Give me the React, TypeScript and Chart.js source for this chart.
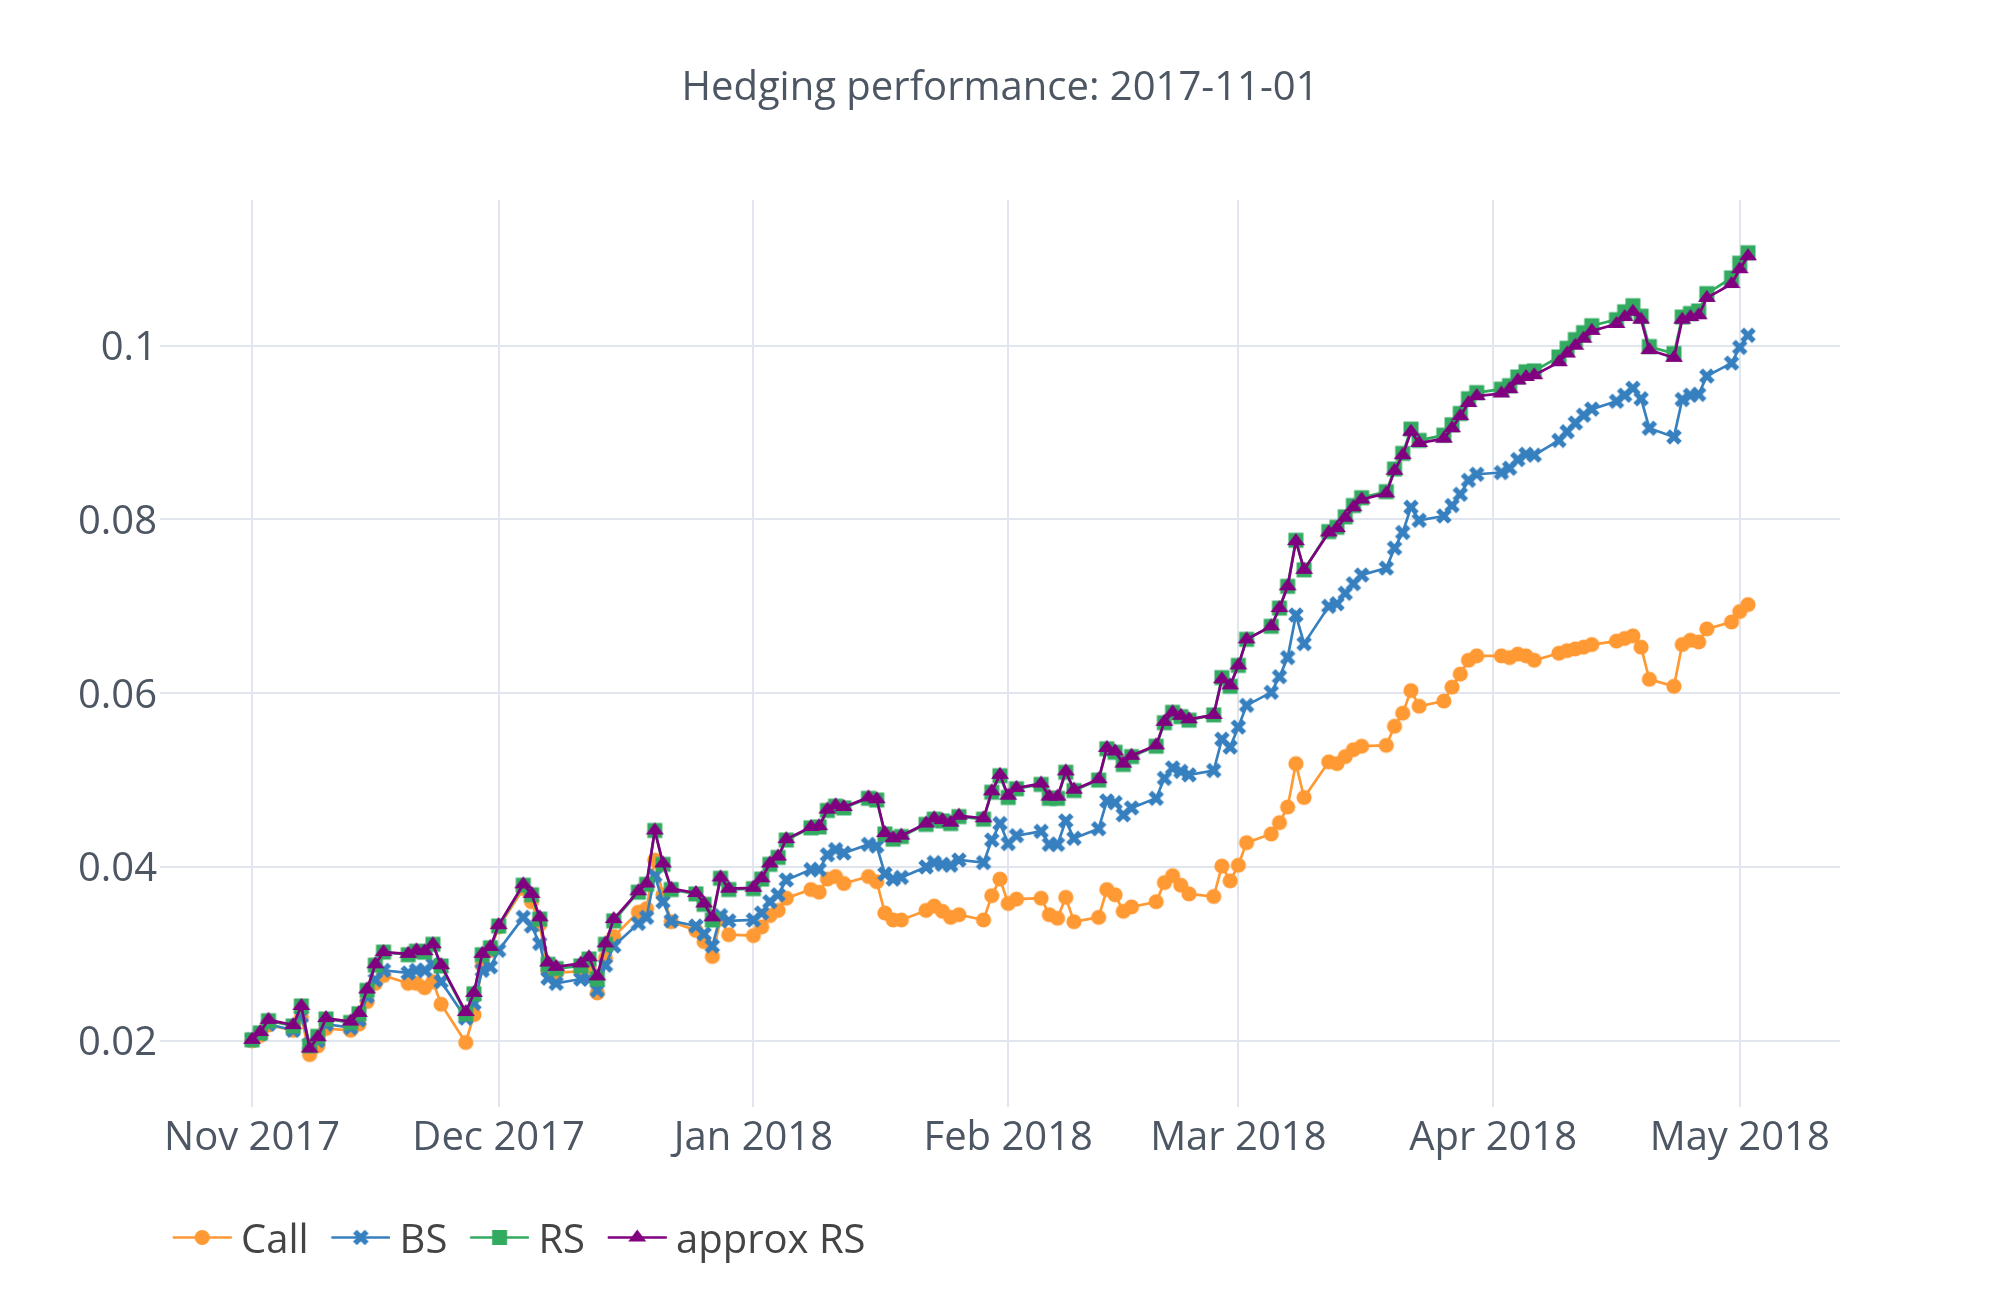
import { useEffect, useRef } from "react"
import Chart from "chart.js/auto"

// trading days shown on the x axis
const dates = [
  "2017-11-01", "2017-11-02", "2017-11-03", "2017-11-06", "2017-11-07", "2017-11-08", "2017-11-09", "2017-11-10",
  "2017-11-13", "2017-11-14", "2017-11-15", "2017-11-16", "2017-11-17", "2017-11-20", "2017-11-21", "2017-11-22",
  "2017-11-23", "2017-11-24", "2017-11-27", "2017-11-28", "2017-11-29", "2017-11-30",
  "2017-12-01", "2017-12-04", "2017-12-05", "2017-12-06", "2017-12-07", "2017-12-08", "2017-12-11", "2017-12-12",
  "2017-12-13", "2017-12-14", "2017-12-15", "2017-12-18", "2017-12-19", "2017-12-20", "2017-12-21", "2017-12-22",
  "2017-12-25", "2017-12-26", "2017-12-27", "2017-12-28", "2017-12-29",
  "2018-01-01", "2018-01-02", "2018-01-03", "2018-01-04", "2018-01-05", "2018-01-08", "2018-01-09", "2018-01-10",
  "2018-01-11", "2018-01-12", "2018-01-15", "2018-01-16", "2018-01-17", "2018-01-18", "2018-01-19", "2018-01-22",
  "2018-01-23", "2018-01-24", "2018-01-25", "2018-01-26", "2018-01-29", "2018-01-30", "2018-01-31",
  "2018-02-01", "2018-02-02", "2018-02-05", "2018-02-06", "2018-02-07", "2018-02-08", "2018-02-09", "2018-02-12",
  "2018-02-13", "2018-02-14", "2018-02-15", "2018-02-16", "2018-02-19", "2018-02-20", "2018-02-21", "2018-02-22",
  "2018-02-23", "2018-02-26", "2018-02-27", "2018-02-28",
  "2018-03-01", "2018-03-02", "2018-03-05", "2018-03-06", "2018-03-07", "2018-03-08", "2018-03-09", "2018-03-12",
  "2018-03-13", "2018-03-14", "2018-03-15", "2018-03-16", "2018-03-19", "2018-03-20", "2018-03-21", "2018-03-22",
  "2018-03-23", "2018-03-26", "2018-03-27", "2018-03-28", "2018-03-29", "2018-03-30",
  "2018-04-02", "2018-04-03", "2018-04-04", "2018-04-05", "2018-04-06", "2018-04-09", "2018-04-10", "2018-04-11",
  "2018-04-12", "2018-04-13", "2018-04-16", "2018-04-17", "2018-04-18", "2018-04-19", "2018-04-20", "2018-04-23",
  "2018-04-24", "2018-04-25", "2018-04-26", "2018-04-27", "2018-04-30",
  "2018-05-01", "2018-05-02",
]

const callValues = [
  0.0200, 0.0206, 0.0218, 0.0212, 0.0227, 0.0184, 0.0194, 0.0214, 0.0212, 0.0219, 0.0245, 0.0266, 0.0275, 0.0266,
  0.0266, 0.0261, 0.0268, 0.0242, 0.0198, 0.0230, 0.0287, 0.0304,
  0.0331, 0.0375, 0.0360, 0.0334, 0.0280, 0.0278, 0.0280, 0.0285, 0.0255, 0.0295, 0.0320, 0.0348, 0.0352, 0.0408,
  0.0368, 0.0337, 0.0327, 0.0314, 0.0297, 0.0340, 0.0322,
  0.0321, 0.0331, 0.0344, 0.0350, 0.0364, 0.0374, 0.0371, 0.0386, 0.0389, 0.0381, 0.0389, 0.0383, 0.0347, 0.0339,
  0.0339, 0.0350, 0.0355, 0.0349, 0.0342, 0.0345, 0.0339, 0.0367, 0.0386,
  0.0358, 0.0363, 0.0364, 0.0345, 0.0341, 0.0365, 0.0337, 0.0342, 0.0374, 0.0368, 0.0349, 0.0354, 0.0360, 0.0382,
  0.0390, 0.0379, 0.0369, 0.0366, 0.0401, 0.0384,
  0.0402, 0.0428, 0.0438, 0.0451, 0.0469, 0.0519, 0.0480, 0.0521, 0.0519, 0.0527, 0.0535, 0.0539, 0.0540, 0.0562,
  0.0577, 0.0603, 0.0585, 0.0591, 0.0607, 0.0622, 0.0638, 0.0643,
  0.0643, 0.0641, 0.0645, 0.0643, 0.0638, 0.0646, 0.0649, 0.0651, 0.0653, 0.0656, 0.0660, 0.0663, 0.0666, 0.0653,
  0.0616, 0.0608, 0.0656, 0.0661, 0.0659, 0.0674, 0.0682,
  0.0694, 0.0702,
]

const bsValues = [
  0.0201, 0.0208, 0.0219, 0.0212, 0.0228, 0.0196, 0.0200, 0.0219, 0.0215, 0.0224, 0.0251, 0.0270, 0.0281, 0.0278,
  0.0281, 0.0281, 0.0288, 0.0268, 0.0226, 0.0243, 0.0281, 0.0285,
  0.0304, 0.0342, 0.0332, 0.0312, 0.0272, 0.0266, 0.0271, 0.0271, 0.0258, 0.0287, 0.0309, 0.0335, 0.0342, 0.0390,
  0.0360, 0.0338, 0.0332, 0.0323, 0.0309, 0.0344, 0.0338,
  0.0339, 0.0347, 0.0360, 0.0368, 0.0385, 0.0397, 0.0397, 0.0414, 0.0420, 0.0416, 0.0426, 0.0424, 0.0392, 0.0386,
  0.0388, 0.0400, 0.0405, 0.0403, 0.0402, 0.0408, 0.0405, 0.0431, 0.0450,
  0.0427, 0.0436, 0.0441, 0.0426, 0.0426, 0.0453, 0.0433, 0.0444, 0.0476, 0.0474, 0.0460, 0.0468, 0.0479, 0.0502,
  0.0514, 0.0510, 0.0506, 0.0511, 0.0547, 0.0538,
  0.0561, 0.0586, 0.0601, 0.0619, 0.0641, 0.0690, 0.0657, 0.0700, 0.0703, 0.0715, 0.0726, 0.0736, 0.0744, 0.0767,
  0.0785, 0.0814, 0.0799, 0.0804, 0.0816, 0.0829, 0.0845, 0.0852,
  0.0854, 0.0859, 0.0869, 0.0875, 0.0874, 0.0891, 0.0901, 0.0911, 0.0920, 0.0927, 0.0936, 0.0943, 0.0951, 0.0939,
  0.0905, 0.0895, 0.0938, 0.0943, 0.0944, 0.0965, 0.0980,
  0.0998, 0.1012,
]

const rsValues = [
  0.0201, 0.0209, 0.0223, 0.0217, 0.0240, 0.0194, 0.0205, 0.0225, 0.0221, 0.0231, 0.0258, 0.0287, 0.0302, 0.0299,
  0.0303, 0.0302, 0.0311, 0.0286, 0.0231, 0.0254, 0.0299, 0.0307,
  0.0332, 0.0379, 0.0368, 0.0340, 0.0288, 0.0283, 0.0286, 0.0294, 0.0271, 0.0311, 0.0338, 0.0371, 0.0380, 0.0442,
  0.0403, 0.0374, 0.0369, 0.0357, 0.0339, 0.0387, 0.0374,
  0.0375, 0.0386, 0.0403, 0.0411, 0.0431, 0.0445, 0.0446, 0.0465, 0.0470, 0.0468, 0.0479, 0.0477, 0.0438, 0.0432,
  0.0435, 0.0449, 0.0455, 0.0453, 0.0450, 0.0458, 0.0455, 0.0486, 0.0505,
  0.0480, 0.0490, 0.0495, 0.0479, 0.0479, 0.0509, 0.0488, 0.0500, 0.0536, 0.0532, 0.0518, 0.0527, 0.0539, 0.0566,
  0.0578, 0.0573, 0.0569, 0.0575, 0.0618, 0.0608,
  0.0632, 0.0662, 0.0677, 0.0698, 0.0723, 0.0776, 0.0742, 0.0786, 0.0791, 0.0803, 0.0816, 0.0825, 0.0832, 0.0858,
  0.0876, 0.0904, 0.0891, 0.0897, 0.0909, 0.0922, 0.0939, 0.0946,
  0.0950, 0.0954, 0.0964, 0.0970, 0.0971, 0.0987, 0.0997, 0.1007, 0.1015, 0.1023, 0.1030, 0.1039, 0.1046, 0.1034,
  0.0999, 0.0991, 0.1033, 0.1037, 0.1040, 0.1060, 0.1078,
  0.1095, 0.1107,
]

const approxRsValues = [
  0.0201, 0.0210, 0.0224, 0.0218, 0.0240, 0.0191, 0.0204, 0.0226, 0.0222, 0.0232, 0.0259, 0.0288, 0.0302, 0.0300,
  0.0304, 0.0303, 0.0311, 0.0287, 0.0233, 0.0255, 0.0300, 0.0308,
  0.0333, 0.0380, 0.0369, 0.0342, 0.0290, 0.0285, 0.0289, 0.0296, 0.0274, 0.0312, 0.0340, 0.0372, 0.0381, 0.0442,
  0.0404, 0.0375, 0.0370, 0.0358, 0.0342, 0.0388, 0.0375,
  0.0376, 0.0387, 0.0404, 0.0412, 0.0432, 0.0446, 0.0447, 0.0466, 0.0471, 0.0469, 0.0480, 0.0478, 0.0439, 0.0433,
  0.0436, 0.0450, 0.0456, 0.0454, 0.0451, 0.0459, 0.0456, 0.0487, 0.0506,
  0.0482, 0.0491, 0.0496, 0.0481, 0.0481, 0.0510, 0.0489, 0.0501, 0.0537, 0.0533, 0.0519, 0.0528, 0.0540, 0.0567,
  0.0578, 0.0574, 0.0570, 0.0575, 0.0616, 0.0609,
  0.0632, 0.0662, 0.0677, 0.0698, 0.0723, 0.0775, 0.0742, 0.0785, 0.0790, 0.0802, 0.0814, 0.0823, 0.0830, 0.0856,
  0.0874, 0.0901, 0.0888, 0.0893, 0.0905, 0.0919, 0.0934, 0.0942,
  0.0945, 0.0950, 0.0960, 0.0964, 0.0966, 0.0981, 0.0991, 0.1000, 0.1008, 0.1017, 0.1025, 0.1033, 0.1039, 0.1030,
  0.0995, 0.0986, 0.1030, 0.1033, 0.1035, 0.1055, 0.1071,
  0.1088, 0.1103,
]

const monthTicks = ["2017-11-01", "2017-12-01", "2018-01-01", "2018-02-01", "2018-03-01", "2018-04-01", "2018-05-01"]
const monthLabels = ["Nov 2017", "Dec 2017", "Jan 2018", "Feb 2018", "Mar 2018", "Apr 2018", "May 2018"]
const yTicks = [0.02, 0.04, 0.06, 0.08, 0.1]
const yTickLabels = ["0.02", "0.04", "0.06", "0.08", "0.1"]

const seriesNames = ["Call", "BS", "RS", "approx RS"]
const seriesColors = ["#ff9933", "#3780bf", "#32ab60", "#800080"]
const seriesMarkers = ["circle", "x", "square", "triangle-up"]

const DAY = 86400000
const X_MIN = Date.parse("2017-11-01") - 11.2 * DAY
const X_MAX = Date.parse("2017-11-01") + 193.2 * DAY
const Y_MIN = 0.01237
const Y_MAX = 0.11677

const FONT = "'Open Sans', sans-serif"
const TEXT = "#4d5663"
const GRID = "#e1e5ed"

// plotly-like marker shapes
function drawMarker(ctx: CanvasRenderingContext2D, kind: string, cx: number, cy: number, color: string) {
  ctx.fillStyle = color
  ctx.strokeStyle = color
  ctx.beginPath()
  if (kind === "circle") {
    ctx.arc(cx, cy, 7.6, 0, Math.PI * 2)
    ctx.fill()
  } else if (kind === "square") {
    ctx.fillRect(cx - 7.5, cy - 7.5, 15, 15)
  } else if (kind === "triangle-up") {
    ctx.moveTo(cx - 9, cy + 4)
    ctx.lineTo(cx + 9, cy + 4)
    ctx.lineTo(cx, cy - 7.9)
    ctx.closePath()
    ctx.fill()
  } else {
    ctx.lineWidth = 5.4
    ctx.moveTo(cx - 5.9, cy - 5.9)
    ctx.lineTo(cx + 5.9, cy + 5.9)
    ctx.moveTo(cx + 5.9, cy - 5.9)
    ctx.lineTo(cx - 5.9, cy + 5.9)
    ctx.stroke()
  }
}

function markerImage(kind: string, color: string) {
  const c = document.createElement("canvas")
  c.width = 26
  c.height = 26
  const ctx = c.getContext("2d")!
  drawMarker(ctx, kind, 13, 13, color)
  return c
}

function legendImage(kind: string, color: string) {
  const c = document.createElement("canvas")
  c.width = 70
  c.height = 30
  const ctx = c.getContext("2d")!
  const y = 10.5
  ctx.strokeStyle = color
  ctx.lineWidth = 2.7
  ctx.beginPath()
  ctx.moveTo(10.85, y)
  ctx.lineTo(69.85, y)
  ctx.stroke()
  drawMarker(ctx, kind, 40.35, y, color)
  return c
}

// the legend starts a little left of the plot area, as in the plotly figure
const legendOffset = {
  id: "legendOffset",
  afterLayout(chart: Chart) {
    if (chart.legend) chart.legend.left = 150
  },
}

export default function App() {
  const chartRef = useRef<HTMLCanvasElement>(null)
  const chartInstance = useRef<Chart | null>(null)

  useEffect(() => {
    if (!chartRef.current) return
    if (chartInstance.current) chartInstance.current.destroy()

    const series = [callValues, bsValues, rsValues, approxRsValues]
    const pointImages = seriesMarkers.map((m, i) => markerImage(m, seriesColors[i]))
    const legendImages = seriesMarkers.map((m, i) => legendImage(m, seriesColors[i]))

    chartInstance.current = new Chart(chartRef.current, {
      type: "line",
      data: {
        datasets: series.map((values, i) => ({
          label: seriesNames[i],
          data: values.map((v, k) => ({ x: Date.parse(dates[k]), y: v })),
          borderColor: seriesColors[i],
          backgroundColor: seriesColors[i],
          borderWidth: 2.7,
          pointStyle: pointImages[i],
          pointRadius: 6,
          pointHoverRadius: 6,
          tension: 0,
          // later series are painted on top, like plotly
          order: series.length - i,
        })),
      },
      options: {
        animation: false,
        responsive: false,
        events: [],
        layout: { padding: { left: 0, right: 0, top: 0, bottom: 28 } },
        scales: {
          x: {
            type: "linear",
            min: X_MIN,
            max: X_MAX,
            afterBuildTicks: (scale) => {
              scale.ticks = monthTicks.map((d) => ({ value: Date.parse(d) }))
            },
            afterFit: (scale) => {
              scale.height = 92.3
            },
            ticks: {
              autoSkip: false,
              maxRotation: 0,
              padding: 8,
              color: TEXT,
              font: { family: FONT, size: 40 },
              callback: (_v, idx) => monthLabels[idx],
            },
            grid: { color: GRID, lineWidth: 2, drawTicks: false },
            border: { display: false },
          },
          y: {
            type: "linear",
            min: Y_MIN,
            max: Y_MAX,
            afterBuildTicks: (scale) => {
              scale.ticks = yTicks.map((v) => ({ value: v }))
            },
            afterFit: (scale) => {
              scale.width = 160
            },
            ticks: {
              padding: 3,
              labelOffset: 3,
              color: TEXT,
              font: { family: FONT, size: 40 },
              callback: (_v, idx) => yTickLabels[idx],
            },
            grid: { color: GRID, lineWidth: 2, drawTicks: false },
            border: { display: false },
          },
          // empty right axis: keeps the plot inside symmetric margins
          yRight: {
            type: "linear",
            position: "right",
            afterFit: (scale) => {
              scale.width = 160
            },
            ticks: { display: false },
            grid: { display: false },
            border: { display: false },
          },
        },
        plugins: {
          title: {
            display: true,
            text: "Hedging performance: 2017-11-01",
            color: TEXT,
            font: { family: FONT, size: 40, weight: "normal" },
            padding: { top: 64.4, bottom: 87.6 },
          },
          legend: {
            position: "bottom",
            align: "start",
            labels: {
              usePointStyle: true,
              pointStyleWidth: 48.3,
              padding: 22.7,
              color: "#444",
              font: { family: FONT, size: 40 },
              sort: (a, b) => (a.datasetIndex ?? 0) - (b.datasetIndex ?? 0),
              generateLabels: (chart) =>
                Chart.defaults.plugins.legend.labels
                  .generateLabels(chart)
                  .map((item) => ({ ...item, pointStyle: legendImages[item.datasetIndex ?? 0] })),
            },
          },
          tooltip: { enabled: false },
        },
      },
      plugins: [legendOffset],
    })

    return () => {
      if (chartInstance.current) {
        chartInstance.current.destroy()
        chartInstance.current = null
      }
    }
  }, [])

  return (
    <div style={{ position: "fixed", left: 0, top: 0, width: 2000, height: 1300, background: "#fff" }}>
      <canvas ref={chartRef} width={2000} height={1300} style={{ width: 2000, height: 1300 }}></canvas>
    </div>
  )
}
